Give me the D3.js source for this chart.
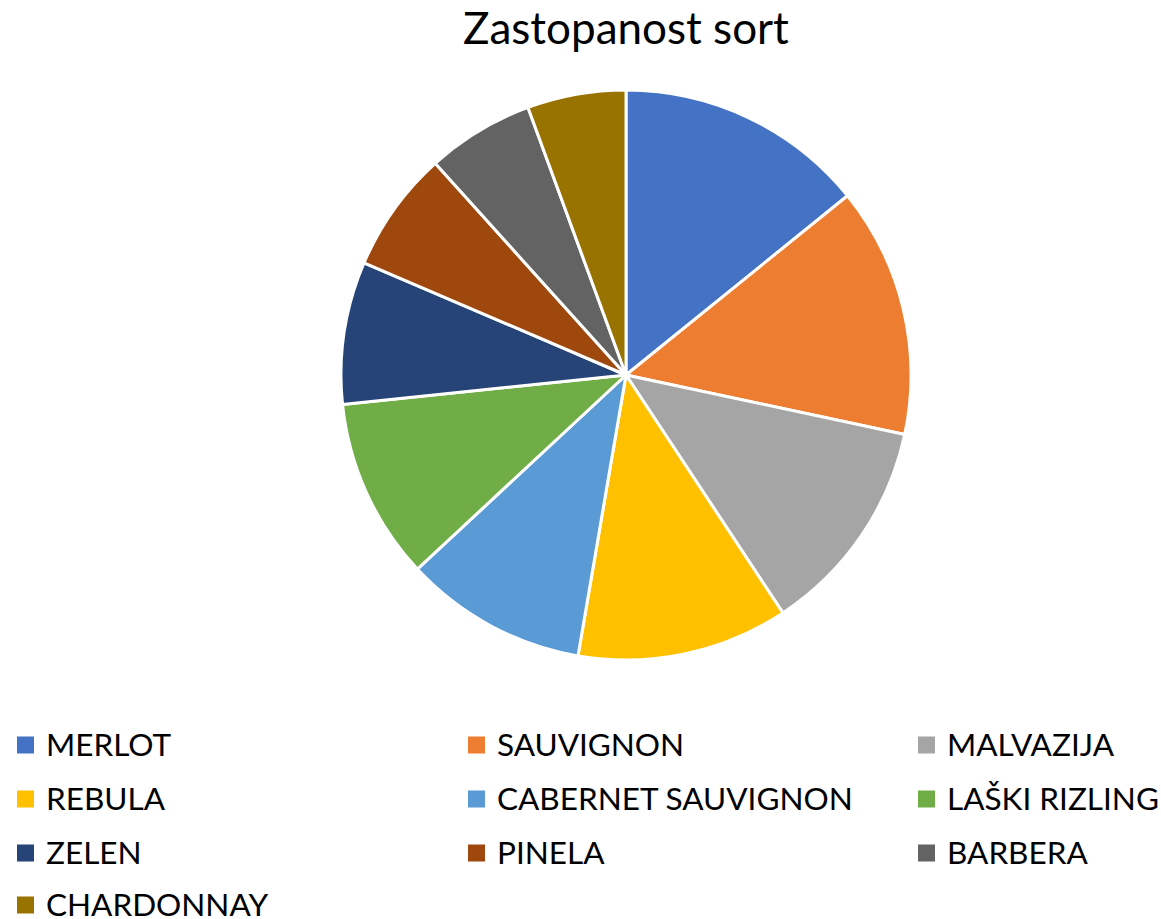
<!DOCTYPE html>
<html><head><meta charset="utf-8">
<script src="https://cdn.jsdelivr.net/npm/d3@7"></script>
<style>body{margin:0;background:#fff}svg{display:block}</style>
</head><body>
<svg id="c" width="1161" height="919"></svg>
<script>
const title = "Zastopanost sort";
const categories = ["MERLOT","SAUVIGNON","MALVAZIJA","REBULA","CABERNET SAUVIGNON","LAŠKI RIZLING","ZELEN","PINELA","BARBERA","CHARDONNAY"];
const values = [14.2, 14.2, 12.4, 12.0, 10.4, 10.3, 8.1, 6.9, 6.1, 5.6];
const colors = ["#4472C4","#ED7D31","#A5A5A5","#FFC000","#5B9BD5","#70AD47","#264478","#9E480E","#636363","#997300"];

const svg = d3.select("#c");
const font = "Lato, 'Open Sans', sans-serif";
const cx = 626, cy = 375, R = 285;

svg.append("text").attr("x", cx).attr("y", 44).attr("text-anchor","middle")
  .attr("font-family", font).attr("font-size", 44).attr("fill","#000").text(title);

const data = categories.map((c,i)=>({name:c, value:values[i], color:colors[i]}));
const pie = d3.pie().value(d=>d.value).sort(null);
const arc = d3.arc().innerRadius(0).outerRadius(R);
svg.append("g").attr("transform",`translate(${cx},${cy})`)
  .selectAll("path").data(pie(data)).join("path")
  .attr("d", arc).attr("fill", d=>d.data.color)
  .attr("stroke","#fff").attr("stroke-width",3).attr("stroke-linejoin","round");

const colX = [17, 468, 918];
const rowY = [745, 799, 853, 905];
const lg = svg.append("g");
data.forEach((d,i)=>{
  const c = i % 3, r = Math.floor(i/3);
  const g = lg.append("g").attr("transform",`translate(${colX[c]},${rowY[r]})`);
  g.append("rect").attr("x",0).attr("y",-8.5).attr("width",17).attr("height",17).attr("fill",d.color);
  g.append("text").attr("x",29).attr("y",11).attr("font-family",font).attr("font-size",31.5)
    .attr("fill","#000").text(d.name);
});
</script>
</body></html>
